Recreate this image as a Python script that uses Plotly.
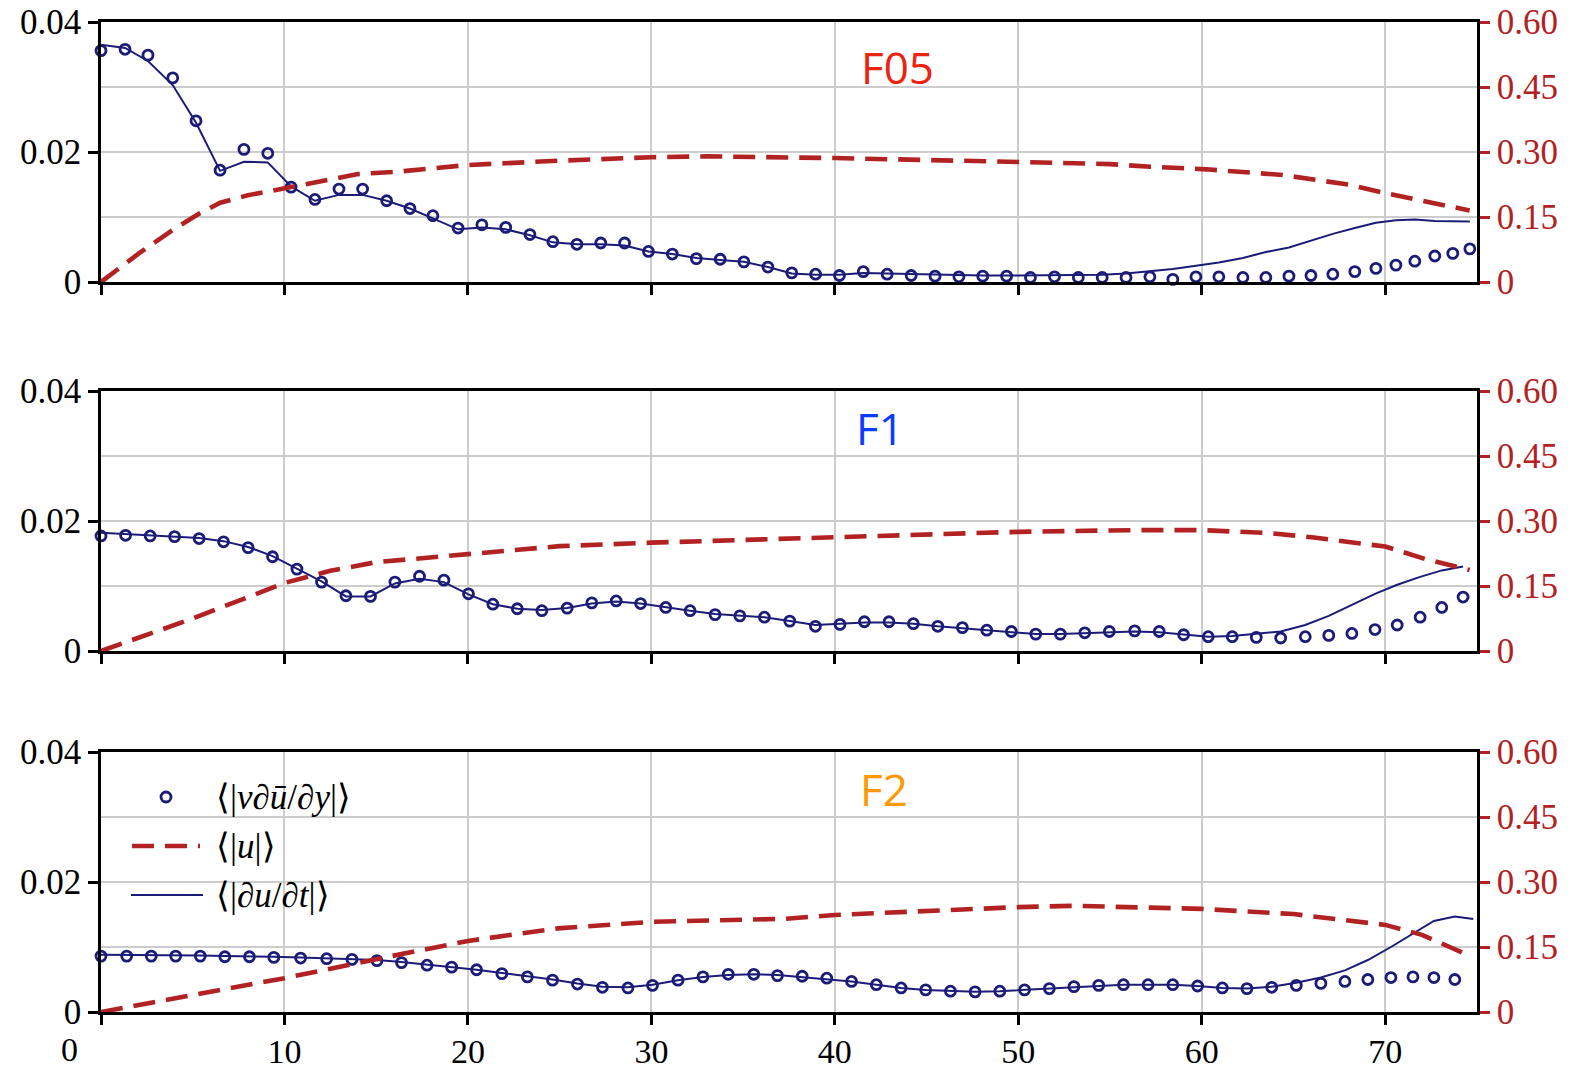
import plotly.graph_objects as go
from plotly.subplots import make_subplots

# ---------------- data ----------------
# Panel F05
x_f05 = [0, 1.31, 2.56, 3.91, 5.18, 6.49, 7.79, 9.09, 10.36, 11.66, 12.97, 14.26, 15.57, 16.84, 18.09,
         19.46, 20.76, 22.06, 23.38, 24.63, 25.94, 27.24, 28.54, 29.84, 31.14, 32.45, 33.75, 35.04, 36.35,
         37.65, 38.95, 40.25, 41.55, 42.85, 44.16, 45.46, 46.76, 48.06, 49.36, 50.66, 51.97, 53.27, 54.57,
         55.87, 57.17, 58.42, 59.68, 60.93, 62.24, 63.49, 64.75, 65.95, 67.14, 68.34, 69.49, 70.58, 71.61,
         72.70, 73.68, 74.61]
adv_f05 = [0.0356, 0.0358, 0.0349, 0.0314, 0.0248, 0.0172, 0.0204, 0.0198, 0.0146, 0.0127, 0.0143, 0.0143,
           0.0125, 0.0113, 0.0102, 0.0083, 0.0088, 0.0084, 0.0073, 0.0062, 0.0058, 0.0060, 0.0060, 0.0047,
           0.0043, 0.0036, 0.0035, 0.0031, 0.0023, 0.0014, 0.0012, 0.0010, 0.0016, 0.0012, 0.0010, 0.0009,
           0.0008, 0.0009, 0.0009, 0.0007, 0.0008, 0.0007, 0.0007, 0.0007, 0.0008, 0.0004, 0.0008, 0.0008,
           0.0007, 0.0007, 0.0009, 0.0010, 0.0012, 0.0016, 0.0021, 0.0026, 0.0032, 0.0040, 0.0044, 0.0051]
dudt_f05 = [0.0365, 0.0360, 0.0340, 0.0303, 0.0245, 0.0171, 0.0185, 0.0184, 0.0147, 0.0125, 0.0134, 0.0134,
            0.0125, 0.0113, 0.0098, 0.0081, 0.0084, 0.0081, 0.0072, 0.0061, 0.0058, 0.0058, 0.0056, 0.0047,
            0.0043, 0.0037, 0.0034, 0.0031, 0.0023, 0.0013, 0.0011, 0.0011, 0.0014, 0.0013, 0.0012, 0.0011,
            0.0010, 0.0010, 0.0010, 0.0010, 0.0010, 0.0010, 0.0011, 0.0013, 0.0016, 0.0020, 0.0025, 0.0030,
            0.0037, 0.0046, 0.0053, 0.0064, 0.0074, 0.0083, 0.0091, 0.0095, 0.0096, 0.0094, 0.0093, 0.0093]
xu_f05 = [0, 2.1, 3.9, 5.4, 6.5, 8, 9, 10, 12.7, 14, 16.3, 20, 25, 30, 33, 40, 50, 55, 57.2, 60.25, 64.4,
          68.1, 70, 72.6, 74.6]
u_f05 = [0, 0.067, 0.12, 0.159, 0.183, 0.200, 0.208, 0.216, 0.239, 0.249, 0.255, 0.270, 0.280, 0.288, 0.290,
         0.286, 0.277, 0.272, 0.266, 0.260, 0.247, 0.224, 0.205, 0.182, 0.165]

# Panel F1
x_f1 = [0, 1.34, 2.68, 4.01, 5.35, 6.68, 8.02, 9.35, 10.68, 12.02, 13.35, 14.69, 16.02, 17.36, 18.69, 20.03,
        21.36, 22.69, 24.03, 25.41, 26.75, 28.08, 29.41, 30.78, 32.11, 33.47, 34.82, 36.16, 37.54, 38.94,
        40.28, 41.61, 42.95, 44.28, 45.61, 46.95, 48.28, 49.62, 50.95, 52.29, 53.62, 54.96, 56.34, 57.68,
        59.01, 60.35, 61.66, 62.97, 64.30, 65.64, 66.92, 68.18, 69.44, 70.65, 71.90, 73.08, 74.24]
adv_f1 = [0.0177, 0.0178, 0.0177, 0.0176, 0.0173, 0.0168, 0.0159, 0.0145, 0.0126, 0.0106,
          0.0085, 0.0084, 0.0106, 0.0115, 0.0109, 0.0088, 0.0072, 0.0065, 0.0062, 0.0066,
          0.0074, 0.0077, 0.0073, 0.0067, 0.0062, 0.0056, 0.0054, 0.0052, 0.0046,
          0.0038, 0.0041, 0.0045, 0.0045, 0.0042, 0.0038, 0.0036, 0.0032, 0.0030, 0.0026,
          0.0026, 0.0028, 0.0030, 0.0031, 0.0030, 0.0025, 0.0022, 0.0022, 0.0021, 0.0020,
          0.0022, 0.0024, 0.0027, 0.0033, 0.0040, 0.0052, 0.0067, 0.0083]
dudt_f1 = [0.0182, 0.0180, 0.0178, 0.0177, 0.0174, 0.0169, 0.0160, 0.0146, 0.0127, 0.0107,
           0.0084, 0.0084, 0.0104, 0.0111, 0.0106, 0.0087, 0.0072, 0.0065, 0.0063, 0.0066,
           0.0073, 0.0076, 0.0073, 0.0067, 0.0062, 0.0057, 0.0054, 0.0052, 0.0046,
           0.0040, 0.0042, 0.0044, 0.0044, 0.0042, 0.0038, 0.0035, 0.0031, 0.0029, 0.0026,
           0.0026, 0.0027, 0.0029, 0.0030, 0.0029, 0.0025, 0.0022, 0.0023, 0.0026, 0.0030,
           0.0040, 0.0054, 0.0071, 0.0088, 0.0102, 0.0114, 0.0124, 0.0130]
xu_f1 = [0, 5, 10, 12.5, 15, 20, 25, 30, 37.2, 40, 50, 56.4, 60, 63.7, 66.1, 70, 72.2, 74.6]
u_f1 = [0, 0.075, 0.157, 0.185, 0.205, 0.224, 0.242, 0.250, 0.259, 0.264, 0.275, 0.279, 0.279, 0.272,
        0.262, 0.241, 0.212, 0.187]

# Panel F2
x_f2 = [0, 1.40, 2.74, 4.07, 5.41, 6.75, 8.09, 9.42, 10.88, 12.30, 13.68, 15.04, 16.38, 17.77, 19.11, 20.47,
        21.85, 23.24, 24.61, 25.97, 27.33, 28.72, 30.06, 31.45, 32.81, 34.19, 35.58, 36.87, 38.22, 39.56,
        40.91, 42.26, 43.61, 44.95, 46.30, 47.64, 48.99, 50.34, 51.69, 53.03, 54.38, 55.73, 57.07, 58.42,
        59.77, 61.12, 62.46, 63.81, 65.15, 66.49, 67.80, 69.05, 70.31, 71.51, 72.65, 73.79]
adv_f2 = [0.0086, 0.0086, 0.0086, 0.0086, 0.0086, 0.0085, 0.0085, 0.0084, 0.0083, 0.0082, 0.0081, 0.0079,
          0.0076, 0.0072, 0.0069, 0.0065, 0.0059, 0.0054, 0.0049, 0.0043, 0.0038, 0.0037, 0.0041, 0.0049,
          0.0054, 0.0058, 0.0058, 0.0056,
          0.0055, 0.0052, 0.0047, 0.0042, 0.0037, 0.0034, 0.0032, 0.0031, 0.0032, 0.0034, 0.0036, 0.0039,
          0.0041, 0.0042, 0.0042, 0.0042, 0.0040, 0.0037, 0.0036, 0.0038, 0.0041, 0.0044, 0.0047, 0.0050,
          0.0053, 0.0054, 0.0053, 0.0050]
xl_f2 = x_f2 + [74.8]
dudt_f2 = [0.0088, 0.0088, 0.0087, 0.0087, 0.0087, 0.0086, 0.0086, 0.0085, 0.0084, 0.0083, 0.0082, 0.0080,
           0.0077, 0.0073, 0.0069, 0.0065, 0.0060, 0.0055, 0.0050, 0.0044, 0.0039, 0.0038, 0.0042, 0.0049,
           0.0054, 0.0057, 0.0058, 0.0057,
           0.0054, 0.0051, 0.0047, 0.0042, 0.0037, 0.0034, 0.0032, 0.0031, 0.0032, 0.0034, 0.0036, 0.0039,
           0.0041, 0.0042, 0.0042, 0.0042, 0.0040, 0.0037, 0.0036,
           0.0039, 0.0045, 0.0053, 0.0064, 0.0080, 0.0100, 0.0121, 0.0140, 0.0147, 0.0143]
xu_f2 = [0, 4.25, 10, 15, 20, 24.9, 30, 37.3, 40, 50, 53, 60, 65, 70, 72, 74.7]
u_f2 = [0, 0.032, 0.078, 0.122, 0.164, 0.193, 0.208, 0.215, 0.224, 0.242, 0.245, 0.238, 0.226, 0.201,
        0.178, 0.128]

panels = [
    ("F05", "#ee2211", x_f05, adv_f05, x_f05, dudt_f05, xu_f05, u_f05),
    ("F1", "#0a3cff", x_f1, adv_f1, x_f1, dudt_f1, xu_f1, u_f1),
    ("F2", "#ff9900", x_f2, adv_f2, xl_f2, dudt_f2, xu_f2, u_f2),
]
left_ticks = [0, 0.02, 0.04]
left_text = ["0", "0.02", "0.04"]
right_ticks = [0, 0.15, 0.30, 0.45, 0.60]
right_text = ["0", "0.15", "0.30", "0.45", "0.60"]
x_ticks = [0, 10, 20, 30, 40, 50, 60, 70]
x_text = ["", "10", "20", "30", "40", "50", "60", "70"]

# ---------------- style ----------------
NAVY = "#1c1c78"
RED = "#b22222"
GRID = "#cccccc"
SERIF = "Liberation Serif, Times New Roman, serif"
W, H = 1573, 1072
ML, MR, MT, MB = 101, 96, 22, 60
domains = [(282, 22), (651, 391), (1012, 752)]  # pixel bottom, top


def py(p):
    return (1012 - p) / 990.0


def px(p):
    return (p - 101) / 1376.0


fig = make_subplots(rows=3, cols=1, specs=[[{"secondary_y": True}]] * 3)

for i, (name, col, xm, ym, xl, yl, xu, yu) in enumerate(panels):
    r = i + 1
    fig.add_trace(go.Scatter(x=xl, y=yl, mode="lines", line=dict(color=NAVY, width=2),
                             showlegend=False, hoverinfo="skip"), row=r, col=1, secondary_y=False)
    fig.add_trace(go.Scatter(x=xm, y=ym, mode="markers",
                             marker=dict(symbol="circle-open", size=10, color=NAVY, line=dict(width=2.8, color=NAVY)),
                             showlegend=False, cliponaxis=False), row=r, col=1, secondary_y=False)
    fig.add_trace(go.Scatter(x=xu, y=yu, mode="lines", line=dict(color=RED, width=4.6, dash="22px,11px"),
                             showlegend=False), row=r, col=1, secondary_y=True)
    b, t = domains[i]
    fig.update_yaxes(domain=[py(b), py(t)], row=r, col=1)
    fig.update_xaxes(domain=[0, 1], range=[0, 75], tickvals=x_ticks, ticktext=x_text,
                     showticklabels=(r == 3), ticklabeloverflow="allow", ticklabelstandoff=-3,
                     showgrid=True, gridcolor=GRID, gridwidth=2, zeroline=False, automargin=False,
                     showline=True, linecolor="black", linewidth=2.5, mirror=True,
                     ticks="outside", ticklen=10, tickwidth=2.5, tickcolor="black",
                     tickfont=dict(family=SERIF, size=34, color="black"), row=r, col=1)
    fig.update_yaxes(range=[0, 0.04], tickvals=left_ticks, ticktext=left_text, showgrid=False,
                     zeroline=False, showline=True, linecolor="black", linewidth=2.5, automargin=False,
                     ticks="outside", ticklen=10, tickwidth=2.5, tickcolor="black",
                     ticklabeloverflow="allow",
                     tickfont=dict(family=SERIF, size=35, color="black"),
                     row=r, col=1, secondary_y=False)
    fig.update_yaxes(range=[0, 0.6], tickvals=right_ticks, ticktext=right_text, showgrid=True,
                     gridcolor=GRID, gridwidth=2, zeroline=False, showline=True, linecolor="black",
                     linewidth=2.5, ticks="outside", ticklen=10, tickwidth=2.5, tickcolor=RED,
                     automargin=False, ticklabeloverflow="allow",
                     tickfont=dict(family=SERIF, size=35, color=RED),
                     row=r, col=1, secondary_y=True)

# panel labels
label_pos = [(897, 67), (880, 428), (884, 789)]
for (name, col, *_), (lx, ly) in zip(panels, label_pos):
    fig.add_annotation(text=name, x=px(lx), y=py(ly), xref="paper", yref="paper", showarrow=False,
                       xanchor="center", yanchor="middle",
                       font=dict(family="Open Sans, DejaVu Sans, sans-serif", size=44, color=col))

# "0" x tick label (shifted left in original)
fig.add_annotation(text="0", x=px(69), y=py(1049), xref="paper", yref="paper", showarrow=False,
                   xanchor="center", yanchor="middle", font=dict(family=SERIF, size=34, color="black"))

# custom legend in bottom panel
leg_y = [797, 846, 895]
leg_text = ["⟨|<i>v</i>∂<i>ū</i>/∂<i>y</i>|⟩", "⟨|<i>u</i>|⟩", "⟨|∂<i>u</i>/∂<i>t</i>|⟩"]
fig.add_shape(type="circle", xref="paper", yref="paper", xsizemode="pixel", ysizemode="pixel",
              xanchor=px(166), yanchor=py(leg_y[0]), x0=-5, x1=5, y0=-5, y1=5,
              line=dict(color=NAVY, width=2.8))
fig.add_shape(type="line", xref="paper", yref="paper", x0=px(132), x1=px(200), y0=py(leg_y[1]),
              y1=py(leg_y[1]), line=dict(color=RED, width=4.6, dash="22px,11px"))
fig.add_shape(type="line", xref="paper", yref="paper", x0=px(131), x1=px(203), y0=py(leg_y[2]),
              y1=py(leg_y[2]), line=dict(color=NAVY, width=2))
for t, yy in zip(leg_text, leg_y):
    fig.add_annotation(text=t, x=px(214), y=py(yy), xref="paper", yref="paper", showarrow=False,
                       xanchor="left", yanchor="middle", font=dict(family=SERIF, size=35, color="black"))

fig.update_layout(width=W, height=H, margin=dict(l=ML, r=MR, t=MT, b=MB, autoexpand=False),
                  plot_bgcolor="white", paper_bgcolor="white", showlegend=False)

fig.write_html("out.html", config={"displayModeBar": False},
               post_script="document.body.style.margin='0';")
